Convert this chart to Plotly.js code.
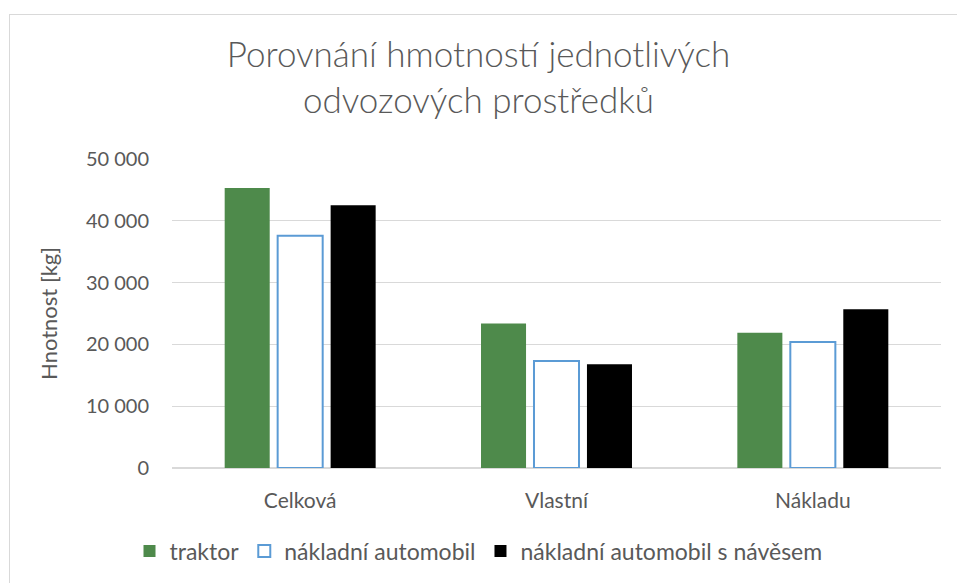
<!DOCTYPE html>
<html>
<head>
<meta charset="utf-8">
<script src="https://cdn.plot.ly/plotly-3.0.1.min.js"></script>
<style>
html,body{margin:0;padding:0;background:#fff;}
#wrap{position:relative;width:957px;height:583px;}
#chart{position:absolute;left:0;top:0;width:957px;height:583px;}
#frame{position:absolute;left:9px;top:14px;width:960px;height:600px;border-left:1px solid #d9d9d9;border-top:1px solid #d9d9d9;pointer-events:none;}
</style>
</head>
<body>
<div id="wrap"><div id="chart"></div><div id="frame"></div></div>
<script>
const categories = ["Celková", "Vlastní", "Nákladu"];
const seriesNames = ["traktor", "nákladní automobil", "nákladní automobil s návěsem"];
const traktor = [45300, 23400, 21900];
const nakladniAutomobil = [37600, 17300, 20400];
const nakladniSNavesem = [42500, 16800, 25700];
const yTicks = [0, 10000, 20000, 30000, 40000, 50000];

const font = "Lato, 'Open Sans', sans-serif";
const grey = "#595959";

const traces = [
  {type: "bar", name: seriesNames[0], x: categories, y: traktor,
   marker: {color: "#4e8a4b", line: {width: 0}}},
  {type: "bar", name: seriesNames[1], x: categories, y: nakladniAutomobil,
   marker: {color: "#ffffff", line: {color: "#5b9bd5", width: 2}}},
  {type: "bar", name: seriesNames[2], x: categories, y: nakladniSNavesem,
   marker: {color: "#000000", line: {width: 0}}}
];

const layout = {
  width: 957, height: 583,
  margin: {l: 172, r: 16, t: 159, b: 115, autoexpand: false},
  paper_bgcolor: "rgba(0,0,0,0)", plot_bgcolor: "#ffffff",
  separators: ", ",
  font: {family: font, color: grey, size: 18},
  title: {text: "Porovnání hmotností jednotlivých<br>odvozových prostředků",
          font: {family: font, size: 35, color: grey, weight: 300},
          x: 0.5, xanchor: "center", xref: "container", yref: "container", y: 0.885, yanchor: "top"},
  barmode: "group", bargap: 0.38, bargroupgap: 0.15,
  xaxis: {showgrid: false, showline: false, zeroline: false, ticks: "",
          ticklabelstandoff: 18, automargin: false,
          tickfont: {family: font, size: 21, color: grey}},
  yaxis: {range: [0, 50000], tickvals: yTicks, tickformat: ",d",
          showgrid: true, gridcolor: "#d9d9d9", gridwidth: 1,
          zeroline: true, zerolinecolor: "#d9d9d9", zerolinewidth: 1.5,
          showline: false, ticks: "", ticklen: 0, ticklabelstandoff: 22, automargin: false,
          tickfont: {family: font, size: 20, color: grey},
          title: {text: "Hnotnost [kg]", font: {family: font, size: 22, color: grey}, standoff: 22}},
  legend: {orientation: "h", x: 0.5, xref: "container", xanchor: "center",
           yref: "container", y: 0.055, yanchor: "middle",
           font: {family: font, size: 23, color: grey}, traceorder: "normal",
           itemwidth: 30, tracegroupgap: 0}
};

Plotly.newPlot("chart", traces, layout, {displayModeBar: false, staticPlot: true});
</script>
</body>
</html>
